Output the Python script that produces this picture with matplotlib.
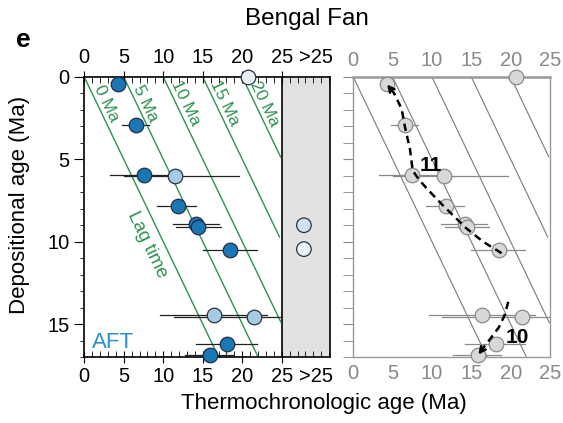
import numpy as np
import matplotlib.pyplot as plt
from matplotlib.ticker import MultipleLocator

plt.rcParams['font.family'] = ['Liberation Sans', 'DejaVu Sans']

# AFT ages (Ma) vs depositional age (Ma), Bengal Fan
dark_age = [4.3, 6.6, 7.5, 11.8, 14.2, 14.4, 18.5, 18.1, 15.9]
dark_dep = [0.4, 2.9, 5.95, 7.85, 8.95, 9.1, 10.5, 16.2, 16.9]
dark_lo = [3.5, 4.8, 3.3, 9.2, 11.2, 11.6, 15.0, 14.2, 12.7]
dark_hi = [5.2, 8.2, 11.5, 14.1, 17.0, 17.3, 21.8, 21.8, 18.8]

light_age = [11.5, 16.4, 21.5]
light_dep = [6.0, 14.45, 14.6]
light_lo = [5.0, 9.6, 11.3]
light_hi = [19.6, 23.1, 25.5]

pale_age = [20.7]
pale_dep = [0.0]

# samples with ages > 25 Ma
old_dep = [9.0, 10.45]
old_col = ['#cfe2f3', '#eef4fa']

lag_times = [0, 5, 10, 15, 20]

# interpreted trends (dashed arrows)
trend11_x = [18.85, 16.5, 14.4, 11.4, 9.3, 8.3, 7.55, 7.2, 6.57, 6.15, 5.2, 4.3]
trend11_y = [10.7, 10.0, 9.2, 7.8, 6.75, 6.2, 5.68, 4.36, 3.05, 1.94, 1.0, 0.45]
trend10_x = [19.7, 19.2, 18.5, 17.4, 16.6, 15.9]
trend10_y = [13.65, 14.5, 15.2, 15.9, 16.4, 16.85]

c_dark = '#1b77b4'
c_light = '#a6cbe6'
c_pale = '#e6eff8'
c_green = '#2f9150'
MS = 110

fig = plt.figure(figsize=(5.63, 4.23), dpi=100)
ax = fig.add_axes([0.1497, 0.156, 0.4364, 0.662])
ax2 = fig.add_axes([0.6275, 0.156, 0.3494, 0.662])

YMAX = 17
ax.set_xlim(0, 31.1)
ax.set_ylim(YMAX, 0)
ax2.set_xlim(0, 25)
ax2.set_ylim(YMAX, 0)


def err_pts(a, age, dep, lo, hi, col, ecol, ec, z=3):
    for x, y, l, h in zip(age, dep, lo, hi):
        a.plot([l, min(h, 25)], [y, y], color=ecol, lw=0.9, zorder=2)
    a.scatter(age, dep, s=MS, color=col, edgecolor=ec, lw=0.9, zorder=z,
              clip_on=False)


# left panel --------------------------------------------------------------
ax.axvspan(25, 31.1, color='#e2e2e2', zorder=0)
ax.axvline(25, color='black', lw=1.2, zorder=1)

p0 = ax.transData.transform((0, 0))
p1 = ax.transData.transform((1, 1))
ang = np.degrees(np.arctan2(p1[1] - p0[1], p1[0] - p0[0]))

yy = np.linspace(0, YMAX, 50)
for lag in lag_times:
    xx = lag + yy
    m = xx <= 25
    ax.plot(xx[m], yy[m], color=c_green, lw=1.0, zorder=1)
    ax.text(lag + 2.8, 1.6, f'{lag} Ma', color=c_green, fontsize=12.5,
            rotation=ang, ha='center', va='center', rotation_mode='anchor')
    ax2.plot(xx[m], yy[m], color='#7a7a7a', lw=0.8, zorder=1)

ax.text(7.9, 10.2, 'Lag time', color=c_green, fontsize=13.5, rotation=ang,
        ha='center', va='center', rotation_mode='anchor')

err_pts(ax, dark_age, dark_dep, dark_lo, dark_hi, c_dark, '#222222', '#1c2f44')
err_pts(ax, light_age, light_dep, light_lo, light_hi, c_light, '#222222', '#2a3440')
ax.scatter(pale_age, pale_dep, s=MS, color=c_pale, edgecolor='#2a3440', lw=0.9,
           zorder=3, clip_on=False)
ax.scatter([27.8, 27.8], old_dep, s=MS, color=old_col, edgecolor='#2a3440',
           lw=0.9, zorder=3)

ax.text(1.0, 16.1, 'AFT', color='#2a8fcf', fontsize=16, va='center')

ax.set_xticks([0, 5, 10, 15, 20, 25, 29.3])
ax.set_xticklabels(['0', '5', '10', '15', '20', '25', '>25'])
ax.xaxis.set_minor_locator(MultipleLocator(1))
ax.tick_params(axis='x', which='both', top=True, labeltop=True, labelsize=14.5,
               pad=3)
ax.tick_params(axis='x', which='major', direction='inout', length=8)
ax.tick_params(axis='x', which='minor', direction='in', length=4)
ax.set_yticks([0, 5, 10, 15])
ax.yaxis.set_minor_locator(MultipleLocator(1))
ax.tick_params(axis='y', which='major', direction='out', length=7, labelsize=14.5)
ax.tick_params(axis='y', which='minor', direction='out', length=3)
# no tick marks for the >25 label
ax.xaxis.get_major_ticks()[-1].tick1line.set_visible(False)
ax.xaxis.get_major_ticks()[-1].tick2line.set_visible(False)
for sp in ax.spines.values():
    sp.set_linewidth(1.2)

# right panel -------------------------------------------------------------
gcol = '#d8d8d8'
err_pts(ax2, dark_age, dark_dep, dark_lo, dark_hi, gcol, '#8a8a8a', '#8a8a8a')
err_pts(ax2, light_age, light_dep, light_lo, light_hi, gcol, '#8a8a8a', '#8a8a8a')
ax2.scatter(pale_age, pale_dep, s=MS, color=gcol, edgecolor='#8a8a8a', lw=0.9,
            zorder=3, clip_on=False)

ax2.plot(trend11_x[:-1], trend11_y[:-1], color='black', ls=(0, (3, 2)), lw=1.8,
         zorder=4)
ax2.annotate('', xy=(trend11_x[-1], trend11_y[-1]),
             xytext=(trend11_x[-2], trend11_y[-2]),
             arrowprops=dict(arrowstyle='->', lw=1.8, color='black',
                             shrinkA=0, shrinkB=0),
             zorder=4)
ax2.plot(trend10_x[:-1], trend10_y[:-1], color='black', ls=(0, (3, 2)), lw=1.8,
         zorder=4)
ax2.annotate('', xy=(trend10_x[-1], trend10_y[-1]),
             xytext=(trend10_x[-2], trend10_y[-2]),
             arrowprops=dict(arrowstyle='->', lw=1.8, color='black',
                             shrinkA=0, shrinkB=0),
             zorder=4)
ax2.text(9.8, 5.4, '11', fontsize=15, fontweight='bold', ha='center', va='center')
ax2.text(20.8, 15.8, '10', fontsize=15, fontweight='bold', ha='center', va='center')

ax2.set_xticks([0, 5, 10, 15, 20, 25])
ax2.tick_params(axis='x', top=True, labeltop=True, length=0, labelsize=14.5,
                labelcolor='#888888', pad=5)
ax2.set_yticks([0, 5, 10, 15])
ax2.yaxis.set_minor_locator(MultipleLocator(1))
ax2.tick_params(axis='y', which='both', direction='out', length=7, color='#888888',
                labelleft=False)
for sp in ax2.spines.values():
    sp.set_color('#999999')
    sp.set_linewidth(1.0)
ax2.spines['top'].set_linewidth(1.8)

fig.text(0.575, 0.045, 'Thermochronologic age (Ma)', fontsize=16,
         ha='center', va='center')
fig.text(0.035, 0.515, 'Depositional age (Ma)', fontsize=16, rotation=90,
         ha='center', va='center')
fig.text(0.545, 0.955, 'Bengal Fan', fontsize=17.5, ha='center', va='center')
fig.text(0.028, 0.905, 'e', fontsize=19, fontweight='bold', ha='left',
         va='center')

fig.savefig('out.png', dpi=100)
